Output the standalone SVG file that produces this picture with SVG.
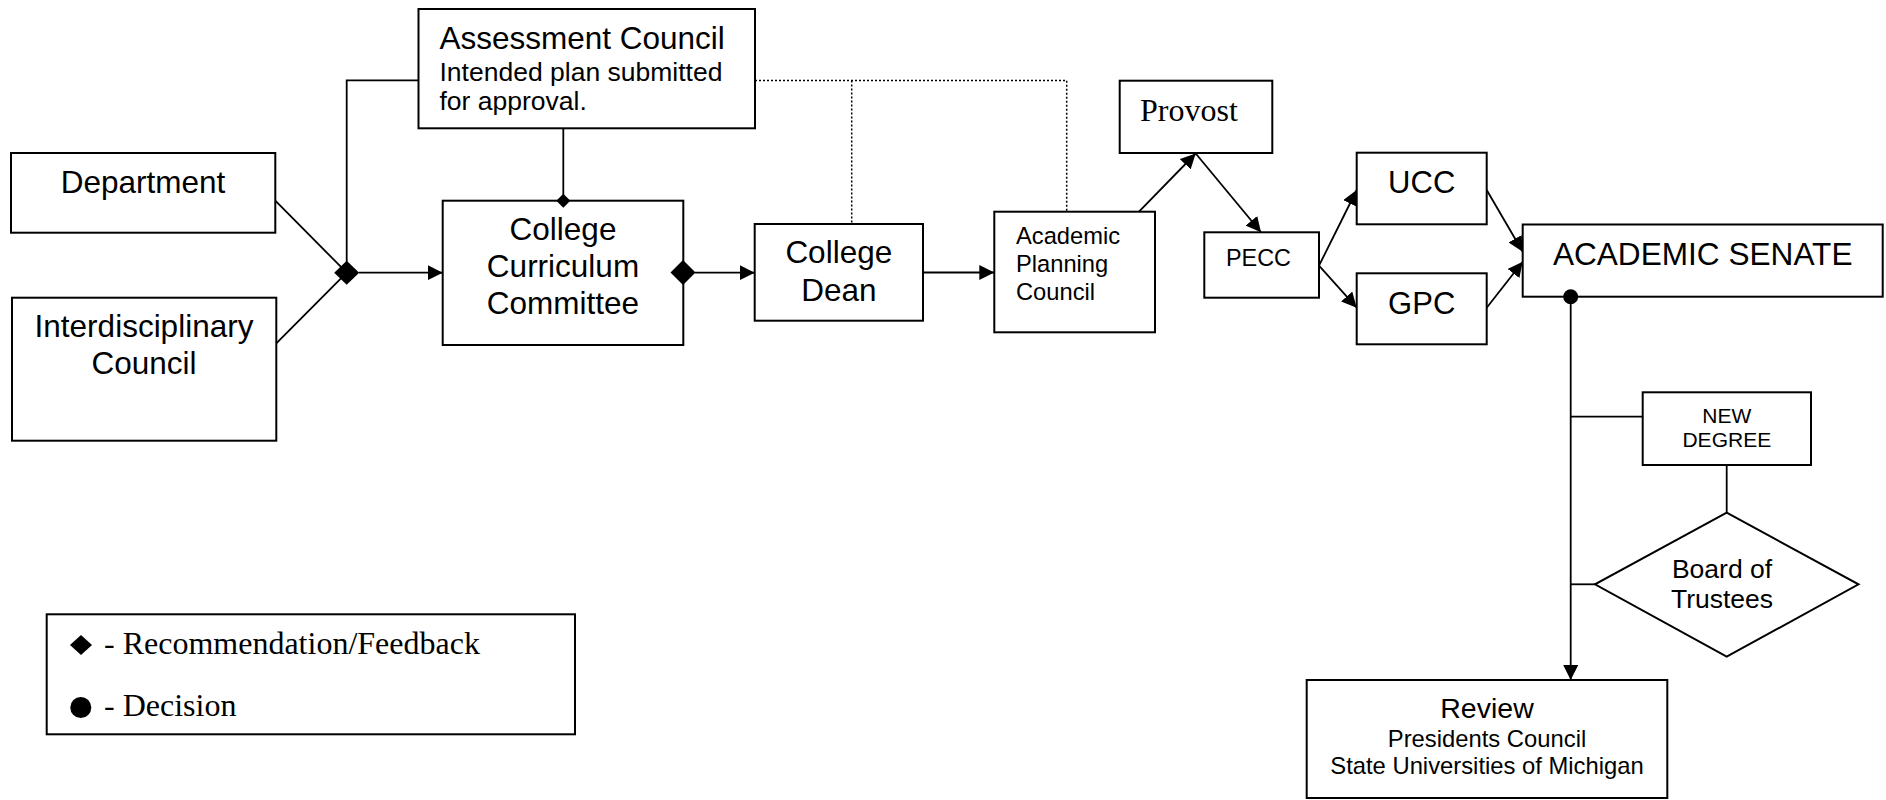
<svg xmlns="http://www.w3.org/2000/svg" width="1886" height="800" viewBox="0 0 1886 800">
  <style>
    .box { fill: #fff; stroke: #000; stroke-width: 2; }
    .lbl { font-family: "Liberation Sans", Arial, sans-serif; fill: #000; }
    .mid { text-anchor: middle; }
    .serif { font-family: "Liberation Serif", "Times New Roman", serif; fill: #000; }
    .link { fill: none; stroke: #000; stroke-width: 1.8; }
    .dot { fill: none; stroke: #000; stroke-width: 1.5; stroke-dasharray: 2 2; }
    .mark { fill: #000; stroke: none; }
  </style>
  <defs>
    <marker id="arrow" markerUnits="userSpaceOnUse" markerWidth="16" markerHeight="15" refX="15" refY="7.5" orient="auto">
      <path d="M0,0 L15,7.5 L0,15 Z" fill="#000"/>
    </marker>
  </defs>
  <rect width="1886" height="800" fill="#fff"/>

  <!-- connectors -->
  <g id="connectors">
    <path class="link" d="M275.3,200.7 L346.7,272.7"/>
    <path class="link" d="M275.3,344.3 L346.7,272.7"/>
    <path class="link" d="M346.7,272.7 V80.3 H418.7"/>
    <path class="link" d="M359,272.7 H442.7" marker-end="url(#arrow)"/>
    <path class="link" d="M563.3,128.3 V200.7"/>
    <path class="link" d="M695,272.7 H754.7" marker-end="url(#arrow)"/>
    <path class="link" d="M923,272.5 H994.3" marker-end="url(#arrow)"/>
    <path class="dot" d="M755,80.5 H1066.7 V211"/>
    <path class="dot" d="M851.7,80.5 V223.5"/>
    <path class="link" d="M1139,211.7 L1195.7,153.5" marker-end="url(#arrow)"/>
    <path class="link" d="M1195.7,153.5 L1261,232.3" marker-end="url(#arrow)"/>
    <path class="link" d="M1319,265.7 L1356.7,190" marker-end="url(#arrow)"/>
    <path class="link" d="M1319,265.7 L1356.7,307.7" marker-end="url(#arrow)"/>
    <path class="link" d="M1486.7,190 L1522.7,251.7" marker-end="url(#arrow)"/>
    <path class="link" d="M1486.7,307.7 L1522.7,261.7" marker-end="url(#arrow)"/>
    <path class="link" d="M1570.7,296.7 V680" marker-end="url(#arrow)"/>
    <path class="link" d="M1570.7,416.7 H1642.7"/>
    <path class="link" d="M1726.7,465 V512.7"/>
    <path class="link" d="M1570.7,584.3 H1595"/>
  </g>

  <g id="department">
    <rect class="box" x="11" y="153" width="264.3" height="79.7"/>
    <text class="lbl mid" x="143" y="192.7" font-size="31.5">Department</text>
  </g>

  <g id="interdisciplinary-council">
    <rect class="box" x="12" y="297.7" width="264.3" height="143"/>
    <text class="lbl mid" x="144" y="337.3" font-size="31.5">Interdisciplinary</text>
    <text class="lbl mid" x="144" y="374" font-size="31.5">Council</text>
  </g>

  <g id="assessment-council">
    <rect class="box" x="418.5" y="9" width="336.5" height="119.3"/>
    <text class="lbl" x="439.5" y="49" font-size="31.5">Assessment Council</text>
    <text class="lbl" x="439.5" y="81" font-size="26.5">Intended plan submitted</text>
    <text class="lbl" x="439.5" y="110" font-size="26.5">for approval.</text>
  </g>

  <g id="college-curriculum-committee">
    <rect class="box" x="442.7" y="200.7" width="240.6" height="144.3"/>
    <text class="lbl mid" x="563" y="240" font-size="31.5">College</text>
    <text class="lbl mid" x="563" y="276.7" font-size="31.5">Curriculum</text>
    <text class="lbl mid" x="563" y="313.7" font-size="31.5">Committee</text>
  </g>

  <g id="college-dean">
    <rect class="box" x="754.7" y="224" width="168.3" height="96.7"/>
    <text class="lbl mid" x="838.8" y="263.3" font-size="31.5">College</text>
    <text class="lbl mid" x="838.8" y="301" font-size="31.5">Dean</text>
  </g>

  <g id="academic-planning-council">
    <rect class="box" x="994.3" y="211.7" width="160.7" height="120.6"/>
    <text class="lbl" x="1016" y="244.3" font-size="23.7">Academic</text>
    <text class="lbl" x="1016" y="272" font-size="23.7">Planning</text>
    <text class="lbl" x="1016" y="299.5" font-size="23.7">Council</text>
  </g>

  <g id="provost">
    <rect class="box" x="1119.7" y="80.7" width="152.6" height="72.3"/>
    <text class="serif" x="1140" y="121" font-size="32">Provost</text>
  </g>

  <g id="pecc">
    <rect class="box" x="1204.3" y="232.3" width="114.7" height="65.4"/>
    <text class="lbl" x="1226" y="265.7" font-size="23.4">PECC</text>
  </g>

  <g id="ucc">
    <rect class="box" x="1356.7" y="152.7" width="130" height="71.6"/>
    <text class="lbl mid" x="1421.7" y="192.7" font-size="31">UCC</text>
  </g>

  <g id="gpc">
    <rect class="box" x="1356.7" y="273.3" width="130" height="71"/>
    <text class="lbl mid" x="1421.7" y="314" font-size="31">GPC</text>
  </g>

  <g id="academic-senate">
    <rect class="box" x="1522.7" y="224.5" width="360" height="72.2"/>
    <text class="lbl mid" x="1702.7" y="264.5" font-size="31.6">ACADEMIC SENATE</text>
  </g>

  <g id="new-degree">
    <rect class="box" x="1642.7" y="392.3" width="168.3" height="72.7"/>
    <text class="lbl mid" x="1726.8" y="422.7" font-size="21">NEW</text>
    <text class="lbl mid" x="1726.8" y="446.7" font-size="21">DEGREE</text>
  </g>

  <g id="board-of-trustees">
    <polygon class="box" points="1726.7,512.7 1858.5,584.3 1726.7,656.7 1595,584.3"/>
    <text class="lbl mid" x="1722" y="578.3" font-size="26.5">Board of</text>
    <text class="lbl mid" x="1722" y="607.7" font-size="26.5">Trustees</text>
  </g>

  <g id="review">
    <rect class="box" x="1306.7" y="680" width="360.6" height="118"/>
    <text class="lbl mid" x="1487" y="718.3" font-size="28.5">Review</text>
    <text class="lbl mid" x="1487" y="746.7" font-size="23.8">Presidents Council</text>
    <text class="lbl mid" x="1487" y="774.3" font-size="23.8">State Universities of Michigan</text>
  </g>

  <!-- recommendation / decision markers on the flow -->
  <g id="markers">
    <polygon class="mark" points="334.2,272.7 346.7,260.7 359.2,272.7 346.7,284.7"/>
    <polygon class="mark" points="670.5,272.5 683,260 695.5,272.5 683,285"/>
    <polygon class="mark" points="556.3,200.7 563.3,193.7 570.3,200.7 563.3,207.7"/>
    <circle class="mark" cx="1570.7" cy="296.7" r="7.5"/>
  </g>

  <g id="legend">
    <rect class="box" x="46.7" y="614.3" width="528.3" height="120"/>
    <polygon class="mark" points="70,645 81,635 92,645 81,655"/>
    <text class="serif" x="104" y="654" font-size="32">- Recommendation/Feedback</text>
    <circle class="mark" cx="80.8" cy="707.5" r="10.5"/>
    <text class="serif" x="104" y="716" font-size="32">- Decision</text>
  </g>
</svg>
